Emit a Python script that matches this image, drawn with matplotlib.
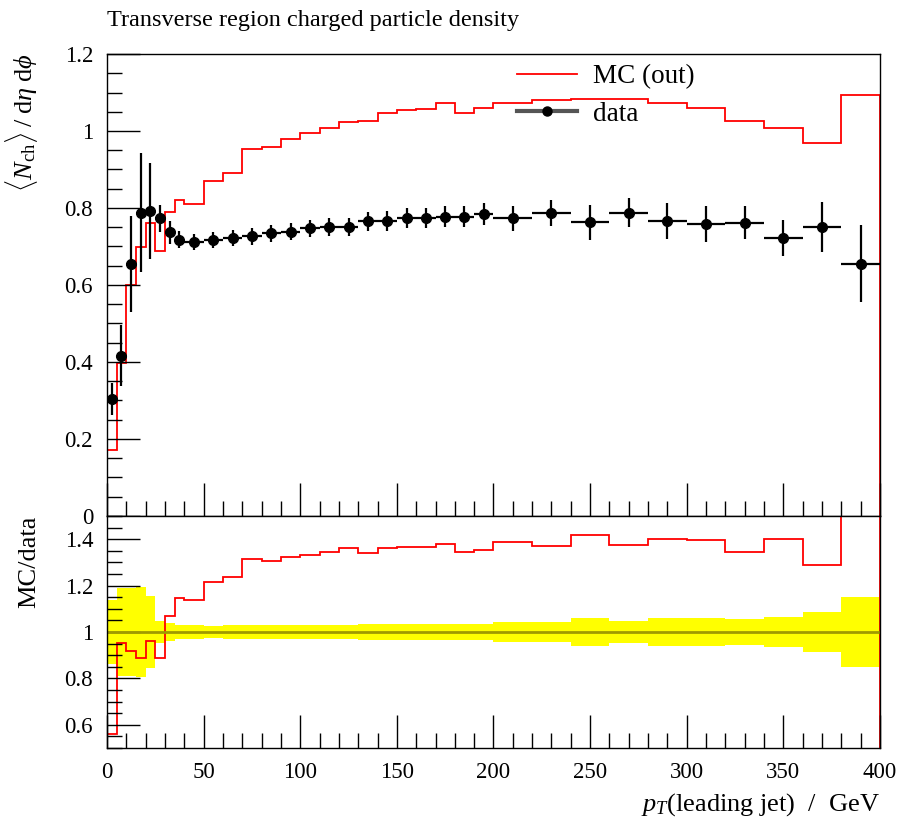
import numpy as np
import matplotlib
matplotlib.use("Agg")
import matplotlib.pyplot as plt
from matplotlib.lines import Line2D
from matplotlib.ticker import MultipleLocator

plt.rcParams['font.family'] = ['Liberation Serif', 'DejaVu Serif']
plt.rcParams['mathtext.fontset'] = 'custom'
plt.rcParams['mathtext.rm'] = 'Liberation Serif'
plt.rcParams['mathtext.it'] = 'Liberation Serif:italic'
plt.rcParams['font.size'] = 16

# bin edges of leading jet pT (GeV)
edges = [0, 5, 10, 15, 20, 25, 30, 35, 40,
         50, 60, 70, 80, 90, 100, 110, 120, 130, 140, 150, 160, 170, 180, 190, 200,
         220, 240, 260, 280, 300, 320, 340, 360, 380, 400]

# data: <N_ch>/deta dphi and its error
data_y = [0.304, 0.416, 0.655, 0.788, 0.792, 0.773, 0.737, 0.717,
          0.712, 0.717, 0.721, 0.726, 0.734, 0.738, 0.747, 0.751, 0.751, 0.765,
          0.767, 0.773, 0.773, 0.777, 0.777, 0.784,
          0.773, 0.788, 0.763, 0.788, 0.766, 0.758, 0.762, 0.721, 0.750, 0.655]
data_err = [0.042, 0.079, 0.125, 0.154, 0.124, 0.036, 0.030, 0.022,
            0.020, 0.020, 0.021, 0.021, 0.022, 0.022, 0.023, 0.023, 0.024, 0.025,
            0.026, 0.026, 0.026, 0.027, 0.027, 0.028,
            0.032, 0.034, 0.046, 0.037, 0.046, 0.046, 0.043, 0.047, 0.065, 0.100]

# MC (out) histogram
mc_y = [0.171, 0.397, 0.600, 0.698, 0.762, 0.687, 0.789, 0.821,
        0.810, 0.871, 0.892, 0.954, 0.958, 0.978, 0.994, 1.009, 1.024, 1.025,
        1.046, 1.055, 1.057, 1.072, 1.046, 1.061,
        1.074, 1.081, 1.083, 1.083, 1.072, 1.059, 1.026, 1.009, 0.968, 1.094]

edges = np.array(edges, dtype=float)
data_y = np.array(data_y)
data_err = np.array(data_err)
mc_y = np.array(mc_y)
centers = 0.5 * (edges[1:] + edges[:-1])
halfw = 0.5 * (edges[1:] - edges[:-1])

fig = plt.figure(figsize=(9.02, 8.22), dpi=100)
ax = fig.add_axes([0.1186, 0.3723, 0.857, 0.562])
rax = fig.add_axes([0.1186, 0.0900, 0.857, 0.2823], sharex=ax)

# main panel
ax.stairs(mc_y, edges, color='red', lw=1.3, label='MC (out)')
ax.errorbar(centers, data_y, xerr=halfw, yerr=data_err, fmt='o', color='black',
            ms=7, elinewidth=1.6, capsize=0)
ax.set_xlim(0, 400)
ax.set_ylim(0, 1.2)
ax.yaxis.set_major_locator(MultipleLocator(0.2))
ax.yaxis.set_minor_locator(MultipleLocator(0.05))
ax.xaxis.set_major_locator(MultipleLocator(50))
ax.xaxis.set_minor_locator(MultipleLocator(10))
ax.tick_params(axis='x', labelbottom=False)
ax.set_yticks([0, 0.2, 0.4, 0.6, 0.8, 1.0, 1.2], ['0', '0.2', '0.4', '0.6', '0.8', '1', '1.2'])
ax.set_ylabel(r'$\langle N_\mathrm{ch} \rangle\;/\;\mathrm{d}\eta\;\mathrm{d}\phi$', loc='top',
              fontsize=19)
ax.yaxis.set_label_coords(-0.087, 1.0)
ax.text(0.0, 1.05, 'Transverse region charged particle density', transform=ax.transAxes,
        ha='left', va='bottom', fontsize=17.5)

handles = [Line2D([], [], color='red', lw=1.3),
           Line2D([], [], color='#555555', lw=3, marker='o', ms=6.5, mfc='black', mec='black')]
ax.legend(handles, ['MC (out)', 'data'], loc='upper left', bbox_to_anchor=(0.513, 1.007),
          frameon=False, fontsize=19.5, handlelength=2.2, handletextpad=0.6,
          labelspacing=0.45, borderpad=0)

# ratio panel
ratio = mc_y / data_y
rel = data_err / data_y
rax.stairs(1 + rel, edges, baseline=1 - rel, fill=True, color='#ffff00', lw=0)
rax.axhline(1.0, color='#a09a00', lw=2)
rax.stairs(ratio, edges, color='red', lw=1.3)
rax.set_ylim(0.5, 1.5)
rax.yaxis.set_major_locator(MultipleLocator(0.2))
rax.yaxis.set_minor_locator(MultipleLocator(0.05))
rax.set_yticks([0.6, 0.8, 1.0, 1.2, 1.4], ['0.6', '0.8', '1', '1.2', '1.4'])
rax.set_ylabel('MC/data', loc='top', fontsize=19)
rax.yaxis.set_label_coords(-0.087, 1.0)
rax.set_xlabel(r'$p_T$(leading jet)  /  GeV', loc='right', fontsize=19, labelpad=6)
rax.set_xticks(range(0, 401, 50))

for a in (ax, rax):
    a.tick_params(which='both', direction='in', top=False, right=False, labelsize=16.5)
    a.tick_params(which='major', length=24, width=1, pad=10)
    a.tick_params(which='minor', length=11, width=1)
    for s in a.spines.values():
        s.set_linewidth(1)

fig.savefig('out.png', dpi=100)
